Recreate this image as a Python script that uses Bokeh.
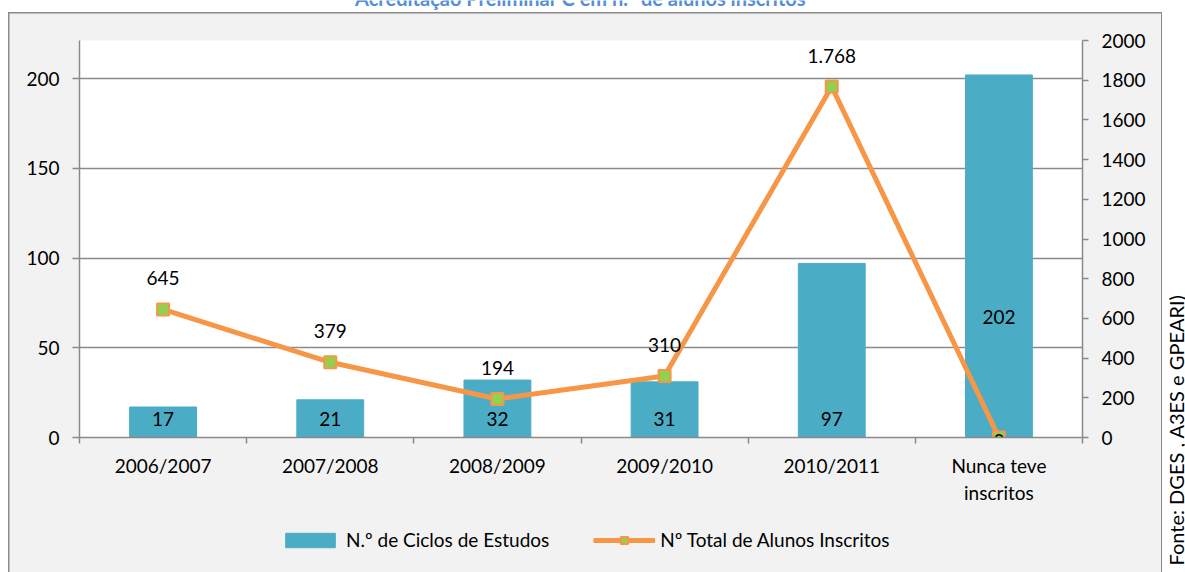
import numpy as np
from bokeh.plotting import figure
from bokeh.models import (Range1d, LinearAxis, FixedTicker, ColumnDataSource,
                          Legend, LegendItem, Label, Spacer)
from bokeh.layouts import row, column
from bokeh.core.properties import value
from bokeh.embed import file_html
from bokeh.resources import INLINE

# ---------------- data ----------------
categories = ["2006/2007", "2007/2008", "2008/2009", "2009/2010", "2010/2011", "Nunca teve\ninscritos"]
ciclos = [17, 21, 32, 31, 97, 202]          # N.º de Ciclos de Estudos (left axis)
alunos = [645, 379, 194, 310, 1768, 0]      # Nº Total de Alunos Inscritos (right axis)
left_ticks = [0, 50, 100, 150, 200]
right_ticks = [0, 200, 400, 600, 800, 1000, 1200, 1400, 1600, 1800, 2000]
title_text = "Acreditação Preliminar C em n.º de alunos inscritos"
source_text = "Fonte: DGES , A3ES e GPEARI)"
bar_name = "N.º de Ciclos de Estudos"
line_name = "Nº Total de Alunos Inscritos"

FONT = "Lato"
FS = "19px"
GRAY = "#8a8a8a"
BG = "#f2f2f2"
BAR = "#4bacc6"
ORANGE = "#f79646"
GREEN = "#92d050"

n = len(categories)
xc = [i + 0.5 for i in range(n)]

H1, H2 = 497, 63
BL, BR = 71, 80

p = figure(width=1154, height=H1, x_range=Range1d(0, n), y_range=Range1d(0, 221.2),
           output_backend="svg", toolbar_location=None,
           min_border_left=BL, min_border_right=BR, min_border_top=28, min_border_bottom=72,
           border_fill_color=None, background_fill_color="white", outline_line_color=None)
p.extra_y_ranges = {"right": Range1d(0, 2000)}

# grid
p.xgrid.visible = False
p.ygrid.ticker = FixedTicker(ticks=left_ticks)
p.ygrid.grid_line_color = GRAY
p.ygrid.grid_line_width = 1.5

# x axis
xa = p.xaxis[0]
xa.ticker = FixedTicker(ticks=xc, minor_ticks=list(range(n + 1)))
xa.major_label_overrides = {x: c for x, c in zip(xc, categories)}
xa.major_tick_line_color = None
xa.major_tick_out = 0
xa.major_tick_in = 0
xa.minor_tick_line_color = GRAY
xa.minor_tick_out = 6
xa.minor_tick_in = 0
xa.minor_tick_line_width = 1.5
xa.axis_line_color = GRAY
xa.axis_line_width = 1.5
xa.major_label_standoff = 10
xa.major_label_text_font = FONT
xa.major_label_text_font_size = FS
xa.major_label_text_color = "black"

# left axis
ya = p.yaxis[0]
ya.ticker = FixedTicker(ticks=left_ticks)
ya.major_tick_out = 7
ya.major_tick_in = 0
ya.minor_tick_line_color = None
ya.major_tick_line_color = GRAY
ya.major_tick_line_width = 1.5
ya.axis_line_color = GRAY
ya.axis_line_width = 1.5
ya.major_label_standoff = 13
ya.major_label_text_font = FONT
ya.major_label_text_font_size = FS
ya.major_label_text_color = "black"

# right axis
ra = LinearAxis(y_range_name="right", ticker=FixedTicker(ticks=right_ticks))
ra.major_tick_out = 6
ra.major_tick_in = 0
ra.minor_tick_line_color = None
ra.major_tick_line_color = GRAY
ra.major_tick_line_width = 1.5
ra.axis_line_color = GRAY
ra.axis_line_width = 1.5
ra.major_label_standoff = 13
ra.major_label_text_font = FONT
ra.major_label_text_font_size = FS
ra.major_label_text_color = "black"
p.add_layout(ra, "right")

# bars
bsrc = ColumnDataSource(dict(x=xc, top=ciclos, label=[str(v) for v in ciclos],
                             ly=[v / 3 if v > 150 else 10.5 for v in ciclos]))
bars = p.vbar(x="x", top="top", width=0.4, source=bsrc, fill_color=BAR, line_color=BAR)
p.text(x="x", y="ly", text="label", source=bsrc, text_align="center", text_baseline="middle",
       text_font=value(FONT), text_font_size=FS, text_color="black")

# line
lsrc = ColumnDataSource(dict(x=xc, y=alunos,
                             label=[f"{v:,}".replace(",", ".") for v in alunos],
                             yoff=[-31 if v > 0 else 3 for v in alunos]))
ln = p.line(x="x", y="y", source=lsrc, y_range_name="right", line_color=ORANGE, line_width=5)
mk = p.scatter(x="x", y="y", source=lsrc, y_range_name="right", marker="square", size=12,
               fill_color=GREEN, line_color=ORANGE, line_width=2)
p.text(x="x", y="y", text="label", source=lsrc, y_range_name="right", y_offset="yoff",
       text_align="center", text_baseline="middle",
       text_font=value(FONT), text_font_size=FS, text_color="black")

# legend strip (same grey box, below the axis labels)
lg = figure(width=1154, height=H2, x_range=Range1d(0, 1), y_range=Range1d(0, 1),
            output_backend="svg", toolbar_location=None,
            min_border_left=BL, min_border_right=BR, min_border_top=0, min_border_bottom=0,
            x_axis_type=None, y_axis_type=None, outline_line_color=None,
            border_fill_color=None, background_fill_color=None)
lb = lg.vbar(x=[0.5], top=[0.5], width=0.1, fill_color=BAR, line_color=BAR, visible=False)
ll = lg.line(x=[0.4, 0.6], y=[0.5, 0.5], line_color=ORANGE, line_width=5, visible=False)
lm = lg.scatter(x=[0.5], y=[0.5], marker="square", size=12,
                fill_color=GREEN, line_color=ORANGE, line_width=2, visible=False)
legend = Legend(items=[LegendItem(label=bar_name, renderers=[lb]),
                       LegendItem(label=line_name, renderers=[ll, lm])],
                orientation="horizontal", location=(200, 21),
                background_fill_alpha=0, border_line_color=None,
                inactive_fill_alpha=0,
                padding=0, margin=0, spacing=44, glyph_width=62, glyph_height=18,
                label_height=20, label_standoff=5,
                label_text_font=FONT, label_text_font_size=FS, label_text_color="black")
lg.add_layout(legend)

edge = "linear-gradient(#8a8a8a, #8a8a8a)"
box = column(p, lg, styles={
    "background": (f"{edge} 0 0 / 1.5px 100% no-repeat, "
                   f"{edge} 0 0 / 100% 1.5px no-repeat, "
                   f"{edge} 100% 0 / 1.5px 100% no-repeat, {BG}"),
})

# side source note
side = figure(width=23, height=H1 + H2, x_range=Range1d(0, 1), y_range=Range1d(0, 1),
              output_backend="svg", toolbar_location=None, min_border=0,
              x_axis_type=None, y_axis_type=None, outline_line_color=None,
              border_fill_color="white", background_fill_color="white")
side.add_layout(Label(x=13, y=7, x_units="screen", y_units="screen", text=source_text,
                      angle=np.pi / 2, text_align="left", text_baseline="middle",
                      text_font=FONT, text_font_size="20px", text_color="black"))

# title strip (title is cropped in the original image)
top = figure(width=1185, height=12, x_range=Range1d(0, 1), y_range=Range1d(0, 1),
             output_backend="svg", toolbar_location=None, min_border=0,
             x_axis_type=None, y_axis_type=None, outline_line_color=None,
             border_fill_color="white", background_fill_color="white")
top.add_layout(Label(x=580, y=15, x_units="screen", y_units="screen", text=title_text,
                     text_align="center", text_baseline="alphabetic",
                     text_font=FONT, text_font_size="20px", text_font_style="bold",
                     text_color="#558ed5"))

layout = column(top, row(Spacer(width=8, height=H1 + H2), box, side))
open("out.html", "w").write(file_html(layout, INLINE))
